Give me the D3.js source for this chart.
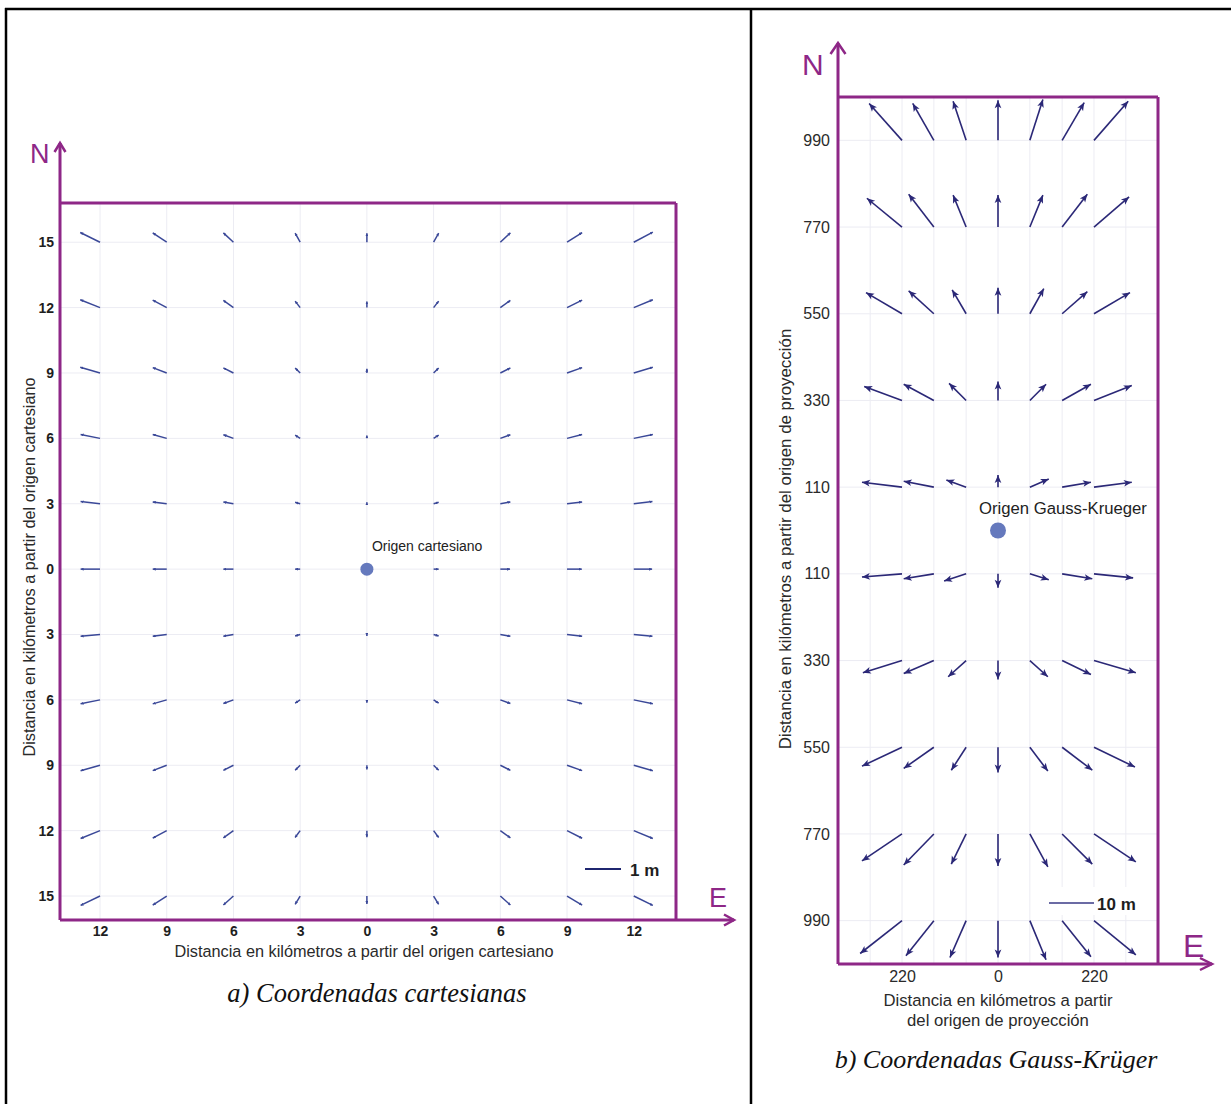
<!DOCTYPE html>
<html>
<head>
<meta charset="utf-8">
<script src="https://cdn.jsdelivr.net/npm/d3@7"></script>
<style>
  html, body { margin: 0; padding: 0; background: #fff; }
  svg { display: block; }
  .sans { font-family: "Liberation Sans", Arial, Helvetica, sans-serif; }
  .serif { font-family: "Liberation Serif", "Times New Roman", serif; }
</style>
</head>
<body>
<svg id="chart" width="1231" height="1104"></svg>
<script>
// ---------------- DATA ----------------
// Panel a) Cartesian grid (km)
const cartE = [-12, -9, -6, -3, 0, 3, 6, 9, 12];
const cartN = [15, 12, 9, 6, 3, 0, -3, -6, -9, -12, -15];
const cartELabels = ["12", "9", "6", "3", "0", "3", "6", "9", "12"];
const cartNLabels = ["15", "12", "9", "6", "3", "0", "3", "6", "9", "12", "15"];
// displacement vectors (m), rows follow cartN, columns follow cartE
const cartDE = [
  [-0.55, -0.39, -0.28, -0.14, 0, 0.14, 0.28, 0.42, 0.53],
  [-0.55, -0.39, -0.28, -0.14, 0, 0.14, 0.28, 0.42, 0.53],
  [-0.55, -0.39, -0.28, -0.14, 0, 0.14, 0.28, 0.42, 0.53],
  [-0.54, -0.39, -0.28, -0.14, 0, 0.14, 0.28, 0.42, 0.53],
  [-0.54, -0.39, -0.28, -0.14, 0, 0.14, 0.28, 0.42, 0.52],
  [-0.54, -0.39, -0.28, -0.14, 0, 0.14, 0.27, 0.41, 0.51],
  [-0.54, -0.39, -0.28, -0.14, 0, 0.14, 0.28, 0.42, 0.52],
  [-0.54, -0.39, -0.28, -0.14, 0, 0.14, 0.28, 0.42, 0.53],
  [-0.54, -0.39, -0.28, -0.14, 0, 0.14, 0.28, 0.42, 0.53],
  [-0.54, -0.39, -0.28, -0.14, 0, 0.14, 0.28, 0.42, 0.53],
  [-0.54, -0.39, -0.28, -0.14, 0, 0.14, 0.28, 0.42, 0.53]
];
const cartDN = [
  [0.27, 0.26, 0.26, 0.25, 0.25, 0.25, 0.26, 0.27, 0.28],
  [0.22, 0.21, 0.20, 0.18, 0.17, 0.18, 0.20, 0.21, 0.22],
  [0.16, 0.15, 0.14, 0.14, 0.12, 0.14, 0.14, 0.15, 0.16],
  [0.11, 0.11, 0.10, 0.09, 0.08, 0.09, 0.10, 0.11, 0.11],
  [0.06, 0.05, 0.05, 0.04, 0.04, 0.04, 0.05, 0.05, 0.06],
  [0, 0, 0, 0, 0, 0, 0, 0, 0],
  [-0.05, -0.05, -0.05, -0.04, -0.04, -0.04, -0.05, -0.05, -0.05],
  [-0.11, -0.11, -0.10, -0.09, -0.08, -0.09, -0.10, -0.11, -0.11],
  [-0.15, -0.15, -0.14, -0.14, -0.12, -0.14, -0.14, -0.15, -0.15],
  [-0.22, -0.21, -0.20, -0.19, -0.18, -0.19, -0.20, -0.21, -0.22],
  [-0.26, -0.25, -0.25, -0.23, -0.22, -0.23, -0.25, -0.25, -0.26]
];

// Panel b) Gauss-Krüger grid (km)
const gkE = [-220, -147, -73, 0, 73, 147, 220];
const gkGridE = [-293, -220, -147, -73, 0, 73, 147, 220, 293];
const gkETicks = [-220, 0, 220];
const gkELabels = ["220", "0", "220"];
const gkN = [990, 770, 550, 330, 110, -110, -330, -550, -770, -990];
const gkNLabels = ["990", "770", "550", "330", "110", "110", "330", "550", "770", "990"];
// displacement vectors (m), rows follow gkN, columns follow gkE
const gkDE = [
  [-7.3, -4.7, -2.9, 0, 2.9, 4.9, 7.6],
  [-7.8, -5.6, -2.9, 0, 2.9, 5.6, 7.8],
  [-8.0, -5.6, -3.1, 0, 3.1, 5.6, 8.0],
  [-8.4, -6.7, -3.8, 0, 3.6, 6.4, 8.4],
  [-8.9, -6.7, -4.4, 0, 4.2, 6.4, 8.4],
  [-8.9, -6.7, -4.9, 0, 4.2, 6.7, 8.7],
  [-8.7, -6.7, -4.0, 0, 4.0, 6.4, 9.3],
  [-8.9, -6.7, -3.3, 0, 4.0, 6.7, 9.1],
  [-8.9, -6.7, -3.3, 0, 4.0, 6.7, 9.3],
  [-9.3, -6.2, -3.6, 0, 3.6, 6.4, 9.3]
];
const gkDN = [
  [8.2, 8.2, 8.7, 8.9, 9.1, 8.4, 8.7],
  [6.4, 7.3, 7.1, 7.1, 7.1, 7.3, 6.7],
  [4.7, 5.1, 5.3, 5.8, 5.6, 4.9, 4.7],
  [3.1, 3.6, 3.8, 4.2, 3.6, 3.6, 3.3],
  [1.1, 1.3, 1.6, 2.7, 1.8, 1.1, 1.1],
  [-0.7, -1.1, -1.6, -3.1, -1.3, -1.1, -0.9],
  [-2.7, -2.9, -3.6, -4.2, -3.6, -3.1, -2.7],
  [-4.2, -4.7, -5.1, -5.6, -5.3, -5.1, -4.4],
  [-6.0, -6.9, -6.7, -7.1, -7.3, -6.7, -6.2],
  [-7.3, -7.8, -8.2, -8.2, -8.7, -8.0, -7.6]
];

const cartLegendValue = 1;   // m
const gkLegendValue = 10;    // m

// ---------------- DRAWING ----------------
const svg = d3.select("#chart");
const PURPLE = "#8e2787";
const GRID = "#ececf3";
const CART_VEC = "#3a4898";
const GK_VEC = "#2b2877";
const DOT = "#6579bd";

const defs = svg.append("defs");
defs.append("marker").attr("id", "gkHead")
  .attr("viewBox", "0 -5 10 10").attr("refX", 10).attr("refY", 0)
  .attr("markerUnits", "userSpaceOnUse").attr("markerWidth", 9).attr("markerHeight", 8)
  .attr("orient", "auto")
  .append("path").attr("d", "M0,-4.2L10,0L0,4.2L2.5,0Z").attr("fill", GK_VEC);
defs.append("marker").attr("id", "cartHead")
  .attr("viewBox", "0 -5 10 10").attr("refX", 10).attr("refY", 0)
  .attr("markerUnits", "userSpaceOnUse").attr("markerWidth", 3).attr("markerHeight", 3)
  .attr("orient", "auto")
  .append("path").attr("d", "M0,-5L10,0L0,5Z").attr("fill", CART_VEC);

// table borders
const borders = svg.append("g").attr("stroke", "#000").attr("stroke-width", 2.5);
borders.append("line").attr("x1", 5).attr("x2", 1231).attr("y1", 9).attr("y2", 9);
borders.append("line").attr("x1", 6).attr("x2", 6).attr("y1", 8).attr("y2", 1104);
borders.append("line").attr("x1", 751).attr("x2", 751).attr("y1", 8).attr("y2", 1104);

function chevronUp(g, x, y, hw, h) {
  g.append("path").attr("d", `M${x - hw},${y + h}L${x},${y}L${x + hw},${y + h}`)
    .attr("fill", "none").attr("stroke", PURPLE).attr("stroke-width", 2.5);
}
function chevronRight(g, x, y, hw, h) {
  g.append("path").attr("d", `M${x - h},${y - hw}L${x},${y}L${x - h},${y + hw}`)
    .attr("fill", "none").attr("stroke", PURPLE).attr("stroke-width", 2.5);
}

// ===== Panel a =====
{
  const xDom = [-13.8, 13.9], yDom = [-16.1, 16.8];
  const x = d3.scaleLinear().domain(xDom).range([60, 676]);
  const y = d3.scaleLinear().domain(yDom).range([920, 203]);
  const v = d3.scaleLinear().domain([0, 1]).range([0, 36]);
  const g = svg.append("g");

  // grid
  g.append("g").selectAll("line").data(cartE).join("line")
    .attr("x1", d => x(d)).attr("x2", d => x(d))
    .attr("y1", y(yDom[1])).attr("y2", y(yDom[0]))
    .attr("stroke", GRID).attr("stroke-width", 1);
  g.append("g").selectAll("line").data(cartN).join("line")
    .attr("y1", d => y(d)).attr("y2", d => y(d))
    .attr("x1", x(xDom[0])).attr("x2", x(xDom[1]))
    .attr("stroke", GRID).attr("stroke-width", 1);

  // vectors
  const pts = [];
  cartN.forEach((n, i) => cartE.forEach((e, j) => {
    pts.push({ e, n, de: cartDE[i][j], dn: cartDN[i][j] });
  }));
  g.append("g").selectAll("line").data(pts.filter(p => Math.hypot(p.de, p.dn) > 0)).join("line")
    .attr("x1", d => x(d.e)).attr("y1", d => y(d.n))
    .attr("x2", d => x(d.e) + v(d.de)).attr("y2", d => y(d.n) - v(d.dn))
    .attr("stroke", CART_VEC).attr("stroke-width", 1.5)
    .attr("marker-end", "url(#cartHead)");

  // frame
  const fr = g.append("g").attr("stroke", PURPLE).attr("stroke-width", 3).attr("fill", "none");
  fr.append("line").attr("x1", x(xDom[0])).attr("x2", x(xDom[1])).attr("y1", y(yDom[1])).attr("y2", y(yDom[1]));
  fr.append("line").attr("x1", x(xDom[1])).attr("x2", x(xDom[1])).attr("y1", y(yDom[1])).attr("y2", y(yDom[0]));
  fr.append("line").attr("x1", x(xDom[0])).attr("x2", x(xDom[0])).attr("y1", y(yDom[0])).attr("y2", 143);
  fr.append("line").attr("x1", x(xDom[0])).attr("x2", 734).attr("y1", y(yDom[0])).attr("y2", y(yDom[0]));
  chevronUp(g, x(xDom[0]), 143, 5.5, 9);
  chevronRight(g, 734, y(yDom[0]), 5.5, 10);
  g.append("text").attr("class", "sans").attr("x", 30).attr("y", 163)
    .attr("font-size", 27).attr("fill", PURPLE).text("N");
  g.append("text").attr("class", "sans").attr("x", 709).attr("y", 907)
    .attr("font-size", 27).attr("fill", PURPLE).text("E");

  // axes labels
  const ax = g.append("g").attr("transform", `translate(0,${y(yDom[0])})`)
    .call(d3.axisBottom(x).tickValues(cartE).tickSize(0).tickPadding(6)
      .tickFormat((d, i) => cartELabels[i]));
  const ay = g.append("g").attr("transform", `translate(${x(xDom[0])},0)`)
    .call(d3.axisLeft(y).tickValues(cartN).tickSize(0).tickPadding(6)
      .tickFormat((d, i) => cartNLabels[i]));
  [ax, ay].forEach(a => {
    a.select(".domain").remove();
    a.selectAll("text").attr("font-family", "'Liberation Sans', Arial, sans-serif")
      .attr("font-weight", "bold").attr("font-size", 14).attr("fill", "#1e1e1e");
  });

  g.append("text").attr("class", "sans").attr("x", 364).attr("y", 957)
    .attr("text-anchor", "middle").attr("font-size", 16.3).attr("fill", "#2a2a2a")
    .text("Distancia en kilómetros a partir del origen cartesiano");
  g.append("text").attr("class", "sans")
    .attr("transform", `translate(35,567) rotate(-90)`)
    .attr("text-anchor", "middle").attr("font-size", 16.3).attr("fill", "#2a2a2a")
    .text("Distancia en kilómetros a partir del origen cartesiano");

  // origin
  g.append("circle").attr("cx", x(0)).attr("cy", y(0)).attr("r", 6.5).attr("fill", DOT);
  g.append("text").attr("class", "sans").attr("x", x(0) + 5).attr("y", 551)
    .attr("font-size", 14).attr("fill", "#222").text("Origen cartesiano");

  // legend
  const lx = 585;
  g.append("line").attr("x1", lx).attr("x2", lx + v(cartLegendValue)).attr("y1", 869).attr("y2", 869)
    .attr("stroke", "#1f2670").attr("stroke-width", 2.2);
  g.append("text").attr("class", "sans").attr("x", lx + v(cartLegendValue) + 9).attr("y", 876)
    .attr("font-size", 17).attr("font-weight", "bold").attr("fill", "#1e1e1e").text(cartLegendValue + " m");

  // caption
  g.append("text").attr("class", "serif").attr("x", 377).attr("y", 1002)
    .attr("text-anchor", "middle").attr("font-size", 26.5).attr("font-style", "italic")
    .attr("fill", "#111").text("a) Coordenadas cartesianas");
}

// ===== Panel b =====
{
  const xDom = [-366.7, 366.7], yDom = [-1100, 1100];
  const x = d3.scaleLinear().domain(xDom).range([838, 1158]);
  const y = d3.scaleLinear().domain(yDom).range([964, 97]);
  const v = d3.scaleLinear().domain([0, 10]).range([0, 45]);
  const g = svg.append("g");

  // grid
  g.append("g").selectAll("line").data(gkGridE).join("line")
    .attr("x1", d => x(d)).attr("x2", d => x(d))
    .attr("y1", y(yDom[1])).attr("y2", y(yDom[0]))
    .attr("stroke", GRID).attr("stroke-width", 1);
  g.append("g").selectAll("line").data(gkN).join("line")
    .attr("y1", d => y(d)).attr("y2", d => y(d))
    .attr("x1", x(xDom[0])).attr("x2", x(xDom[1]))
    .attr("stroke", GRID).attr("stroke-width", 1);

  // legend background + legend
  g.append("rect").attr("x", 1040).attr("y", 887).attr("width", 112).attr("height", 28).attr("fill", "#fff");
  const lx = 1049;
  g.append("line").attr("x1", lx).attr("x2", lx + v(gkLegendValue)).attr("y1", 903).attr("y2", 903)
    .attr("stroke", "#3a3a86").attr("stroke-width", 1.6);
  g.append("text").attr("class", "sans").attr("x", lx + v(gkLegendValue) + 3).attr("y", 910)
    .attr("font-size", 17).attr("font-weight", "bold").attr("fill", "#1e1e1e").text(gkLegendValue + " m");

  // vectors
  const pts = [];
  gkN.forEach((n, i) => gkE.forEach((e, j) => {
    pts.push({ e, n, de: gkDE[i][j], dn: gkDN[i][j] });
  }));
  g.append("g").selectAll("line").data(pts).join("line")
    .attr("x1", d => x(d.e)).attr("y1", d => y(d.n))
    .attr("x2", d => x(d.e) + v(d.de)).attr("y2", d => y(d.n) - v(d.dn))
    .attr("stroke", GK_VEC).attr("stroke-width", 1.6)
    .attr("marker-end", "url(#gkHead)");

  // frame
  const fr = g.append("g").attr("stroke", PURPLE).attr("stroke-width", 3).attr("fill", "none");
  fr.append("line").attr("x1", x(xDom[0])).attr("x2", x(xDom[1])).attr("y1", y(yDom[1])).attr("y2", y(yDom[1]));
  fr.append("line").attr("x1", x(xDom[1])).attr("x2", x(xDom[1])).attr("y1", y(yDom[1])).attr("y2", y(yDom[0]));
  fr.append("line").attr("x1", x(xDom[0])).attr("x2", x(xDom[0])).attr("y1", y(yDom[0])).attr("y2", 43);
  fr.append("line").attr("x1", x(xDom[0])).attr("x2", 1212).attr("y1", y(yDom[0])).attr("y2", y(yDom[0]));
  chevronUp(g, x(xDom[0]), 43, 7.5, 11);
  chevronRight(g, 1212, y(yDom[0]), 6, 12);
  g.append("text").attr("class", "sans").attr("x", 802).attr("y", 75)
    .attr("font-size", 30).attr("fill", PURPLE).text("N");
  g.append("text").attr("class", "sans").attr("x", 1183).attr("y", 957)
    .attr("font-size", 32).attr("fill", PURPLE).text("E");

  // axes labels
  const ax = g.append("g").attr("transform", `translate(0,${y(yDom[0])})`)
    .call(d3.axisBottom(x).tickValues(gkETicks).tickSize(0).tickPadding(7)
      .tickFormat((d, i) => gkELabels[i]));
  const ay = g.append("g").attr("transform", `translate(${x(xDom[0])},0)`)
    .call(d3.axisLeft(y).tickValues(gkN).tickSize(0).tickPadding(8)
      .tickFormat((d, i) => gkNLabels[i]));
  [ax, ay].forEach(a => {
    a.select(".domain").remove();
    a.selectAll("text").attr("font-family", "'Liberation Sans', Arial, sans-serif")
      .attr("font-size", 16).attr("fill", "#2a2a2a");
  });

  g.append("text").attr("class", "sans").attr("x", 998).attr("y", 1006)
    .attr("text-anchor", "middle").attr("font-size", 16.7).attr("fill", "#2a2a2a")
    .text("Distancia en kilómetros a partir");
  g.append("text").attr("class", "sans").attr("x", 998).attr("y", 1026)
    .attr("text-anchor", "middle").attr("font-size", 16.7).attr("fill", "#2a2a2a")
    .text("del origen de proyección");
  g.append("text").attr("class", "sans")
    .attr("transform", `translate(791,539) rotate(-90)`)
    .attr("text-anchor", "middle").attr("font-size", 16.9).attr("fill", "#2a2a2a")
    .text("Distancia en kilómetros a partir del origen de proyección");

  // origin
  g.append("circle").attr("cx", x(0)).attr("cy", y(0)).attr("r", 8).attr("fill", DOT);
  g.append("text").attr("class", "sans").attr("x", 979).attr("y", 514)
    .attr("font-size", 16.7).attr("fill", "#222").text("Origen Gauss-Krueger");

  // caption
  g.append("text").attr("class", "serif").attr("x", 996).attr("y", 1068)
    .attr("text-anchor", "middle").attr("font-size", 26).attr("font-style", "italic")
    .attr("fill", "#111").text("b) Coordenadas Gauss-Krüger");
}
</script>
</body>
</html>
